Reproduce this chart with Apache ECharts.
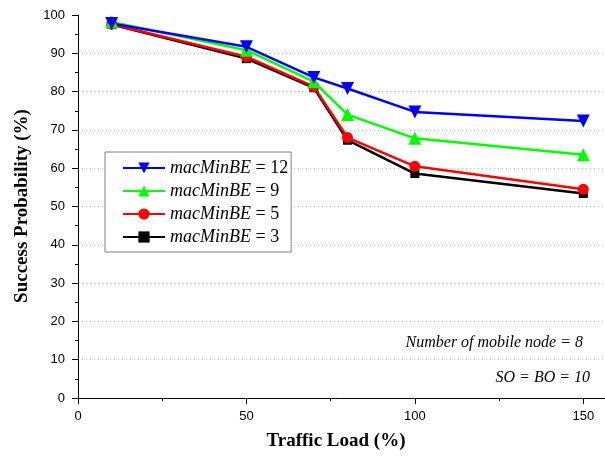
<!DOCTYPE html>
<html>
<head>
<meta charset="utf-8">
<style>
  html, body { margin: 0; padding: 0; background: #fff; }
  #chart { width: 605px; height: 460px; }
</style>
<script src="https://cdn.jsdelivr.net/npm/echarts@6/dist/echarts.min.js"></script>
</head>
<body>
<div id="chart"></div>
<script>
// traffic load (%) on the x axis
const trafficLoad = [10, 50, 70, 80, 100, 150]

// success probability (%) per macMinBE setting
const be12 = [97.8, 91.7, 83.7, 80.8, 74.7, 72.3]
const be9 = [98.2, 90.8, 82.6, 74.0, 67.8, 63.5]
const be5 = [97.6, 89.1, 81.3, 68.0, 60.5, 54.5]
const be3 = [97.5, 88.6, 81.0, 67.3, 58.6, 53.4]

const legendOrder = ['macMinBE = 12', 'macMinBE = 9', 'macMinBE = 5', 'macMinBE = 3']
const notes = ['Number of mobile node = 8', 'SO = BO = 10']

const SERIF = '"Liberation Serif", "Times New Roman", serif'
const SANS = '"Liberation Sans", Arial, sans-serif'

function pairs(ys) {
  return trafficLoad.map((x, i) => [x, ys[i]])
}

function lineSeries(name, ys, color, symbol, size, rotate) {
  return {
    name,
    type: 'line',
    data: pairs(ys),
    symbol,
    symbolSize: size,
    symbolRotate: rotate || 0,
    lineStyle: { color, width: 2.5 },
    itemStyle: { color },
    emphasis: { disabled: true },
    animation: false,
  }
}

const chart = echarts.init(document.getElementById('chart'))

chart.setOption({
  backgroundColor: '#fff',
  // axis runs past the right edge of the picture, like the cropped original
  grid: {
    left: 78,
    width: 539,
    top: 15,
    height: 383,
    containLabel: false,
    outerBoundsMode: 'none',
  },
  xAxis: {
    type: 'value',
    min: 0,
    max: 160,
    interval: 50,
    axisLine: { show: true, onZero: false, lineStyle: { color: '#000', width: 1 } },
    axisTick: { show: true, length: 6, lineStyle: { color: '#000' } },
    minorTick: { show: true, splitNumber: 2, length: 3, lineStyle: { color: '#000' } },
    axisLabel: {
      margin: 12,
      color: '#000',
      fontSize: 13,
      fontFamily: SANS,
      formatter: (v) => (v % 50 === 0 ? String(v) : ''),
    },
    splitLine: { show: false },
  },
  yAxis: {
    type: 'value',
    min: 0,
    max: 100,
    interval: 10,
    axisLine: { show: true, lineStyle: { color: '#000', width: 1 } },
    axisTick: { show: true, length: 6, lineStyle: { color: '#000' } },
    minorTick: { show: true, splitNumber: 2, length: 3, lineStyle: { color: '#000' } },
    axisLabel: { margin: 13, color: '#000', fontSize: 13, fontFamily: SANS },
    splitLine: {
      show: true,
      showMinLine: false,
      showMaxLine: false,
      lineStyle: { color: '#c0c0c0', type: [1, 3], width: 1 },
    },
  },
  legend: {
    data: legendOrder,
    orient: 'vertical',
    left: 105,
    top: 152,
    padding: [6, 3, 5, 17],
    itemWidth: 42,
    itemHeight: 14,
    itemGap: 3,
    borderColor: '#808080',
    borderWidth: 1,
    borderRadius: 0,
    backgroundColor: '#fff',
    selectedMode: false,
    formatter: (name) => '{i|macMinBE}' + name.slice('macMinBE'.length),
    textStyle: {
      fontFamily: SERIF,
      fontSize: 18,
      color: '#000',
      lineHeight: 20,
      rich: {
        i: { fontFamily: SERIF, fontSize: 18, fontStyle: 'italic', color: '#000', lineHeight: 20 },
      },
    },
  },
  graphic: [
    {
      type: 'text',
      x: 22,
      y: 206,
      rotation: Math.PI / 2,
      style: {
        text: 'Success Probability (%)',
        font: 'bold 19px ' + SERIF,
        fill: '#000',
        textAlign: 'center',
        textVerticalAlign: 'middle',
      },
    },
    {
      type: 'text',
      x: 336,
      y: 441,
      style: {
        text: 'Traffic Load (%)',
        font: 'bold 19px ' + SERIF,
        fill: '#000',
        textAlign: 'center',
        textVerticalAlign: 'middle',
      },
    },
    {
      type: 'text',
      x: 583,
      y: 343,
      style: {
        text: notes[0],
        font: 'italic 16px ' + SERIF,
        fill: '#000',
        textAlign: 'right',
        textVerticalAlign: 'middle',
      },
    },
    {
      type: 'text',
      x: 590,
      y: 378,
      style: {
        text: notes[1],
        font: 'italic 16px ' + SERIF,
        fill: '#000',
        textAlign: 'right',
        textVerticalAlign: 'middle',
      },
    },
  ],
  series: [
    lineSeries('macMinBE = 3', be3, '#000000', 'rect', 9),
    lineSeries('macMinBE = 5', be5, '#ff0000', 'circle', 11),
    lineSeries('macMinBE = 9', be9, '#00ff00', 'triangle', 13),
    lineSeries('macMinBE = 12', be12, '#0000ff', 'triangle', 13, 180),
  ],
})
</script>
</body>
</html>
